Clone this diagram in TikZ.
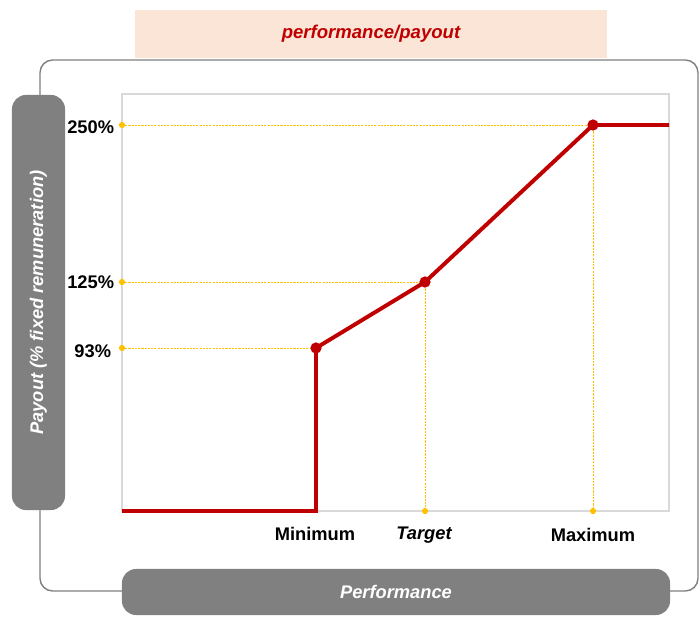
\documentclass[tikz,border=0pt]{standalone}
\usepackage{fontspec}
\setmainfont{Liberation Sans}
\definecolor{payred}{HTML}{C00000}
\definecolor{peach}{HTML}{FBE5D6}
\definecolor{boxgray}{HTML}{808080}
\definecolor{framegray}{HTML}{D9D9D9}
\definecolor{guideyellow}{HTML}{FFC000}
\tikzset{
  lbl/.style={font=\fontsize{13}{15}\selectfont\bfseries},
  graybox/.style={lbl, fill=boxgray, text=white, rounded corners=10pt, font=\fontsize{13}{15}\selectfont\bfseries\itshape},
  guide/.style={guideyellow, dash pattern=on 1.5pt off 0.8pt, line width=0.6pt},
  gdot/.style={fill=guideyellow},
  curve/.style={payred, line width=2.8pt}
}
\begin{document}
\begin{tikzpicture}[x=0.025cm,y=-0.025cm]
            \useasboundingbox (0,0) rectangle (700,618);
            \def\xl{122} \def\xr{669}
            \def\yb{511} \def\yt{94}
            % title and frames
            \node[lbl, fill=peach, text=payred, font=\fontsize{13.2}{15}\selectfont\bfseries\itshape,
                  minimum width=11.8cm, minimum height=1.2cm] (title) at (371,34) {\raisebox{-2pt}{performance/payout}};
            \draw[boxgray, line width=1pt, rounded corners=9pt] (40,60) rectangle (698,591);
            \draw[framegray, line width=1.4pt] (\xl,\yt) rectangle (\xr,\yb);
            \node[graybox, rotate=90, minimum width=10.375cm, minimum height=1.325cm] (yaxis) at (38.5,302.5) {Payout (\% fixed remuneration)};
            \node[graybox, minimum width=13.7cm, minimum height=1.15cm] (xaxis) at (396,592) {Performance};
            % curve points
            \coordinate (start) at (\xl,\yb);
            \coordinate (foot) at (316,\yb);
            \coordinate (min) at (316,348);
            \coordinate (tgt) at (425,282);
            \coordinate (max) at (593,125);
            \coordinate (end) at (\xr,125);
            \coordinate (y93) at (\xl,348);
            \coordinate (y125) at (\xl,282);
            \coordinate (y250) at (\xl,125);
            \coordinate (xtgt) at (425,\yb);
            \coordinate (xmax) at (593,\yb);
            % guides
            \draw[guide] (y93)--(min);
            \draw[guide] (y125)--(tgt);
            \draw[guide] (y250)--(max);
            \draw[guide] (tgt)--(xtgt);
            \draw[guide] (max)--(xmax);
            \foreach \p in {y93,y125,y250,xtgt,xmax}
            \fill[gdot] (\p) circle (2.2pt);
            \draw[curve] (start)--(foot)--(min)--(tgt)--(max)--(end);
            \foreach \p in {min,tgt,max}
            \fill[payred] (\p) circle (4pt);
            % labels
            \node[lbl, anchor=east] (l250) at (119,127) {250\%};
            \node[lbl, anchor=east] (l125) at (119,282) {125\%};
            \node[lbl, anchor=east] (l93) at (116,351) {93\%};
            \node[lbl] (lmin) at (315,534) {Minimum};
            \node[lbl, font=\fontsize{13}{15}\selectfont\bfseries\itshape] (ltgt) at (424,535) {Target};
            \node[lbl] (lmax) at (593,535) {Maximum};
        \end{tikzpicture}
\end{document}
